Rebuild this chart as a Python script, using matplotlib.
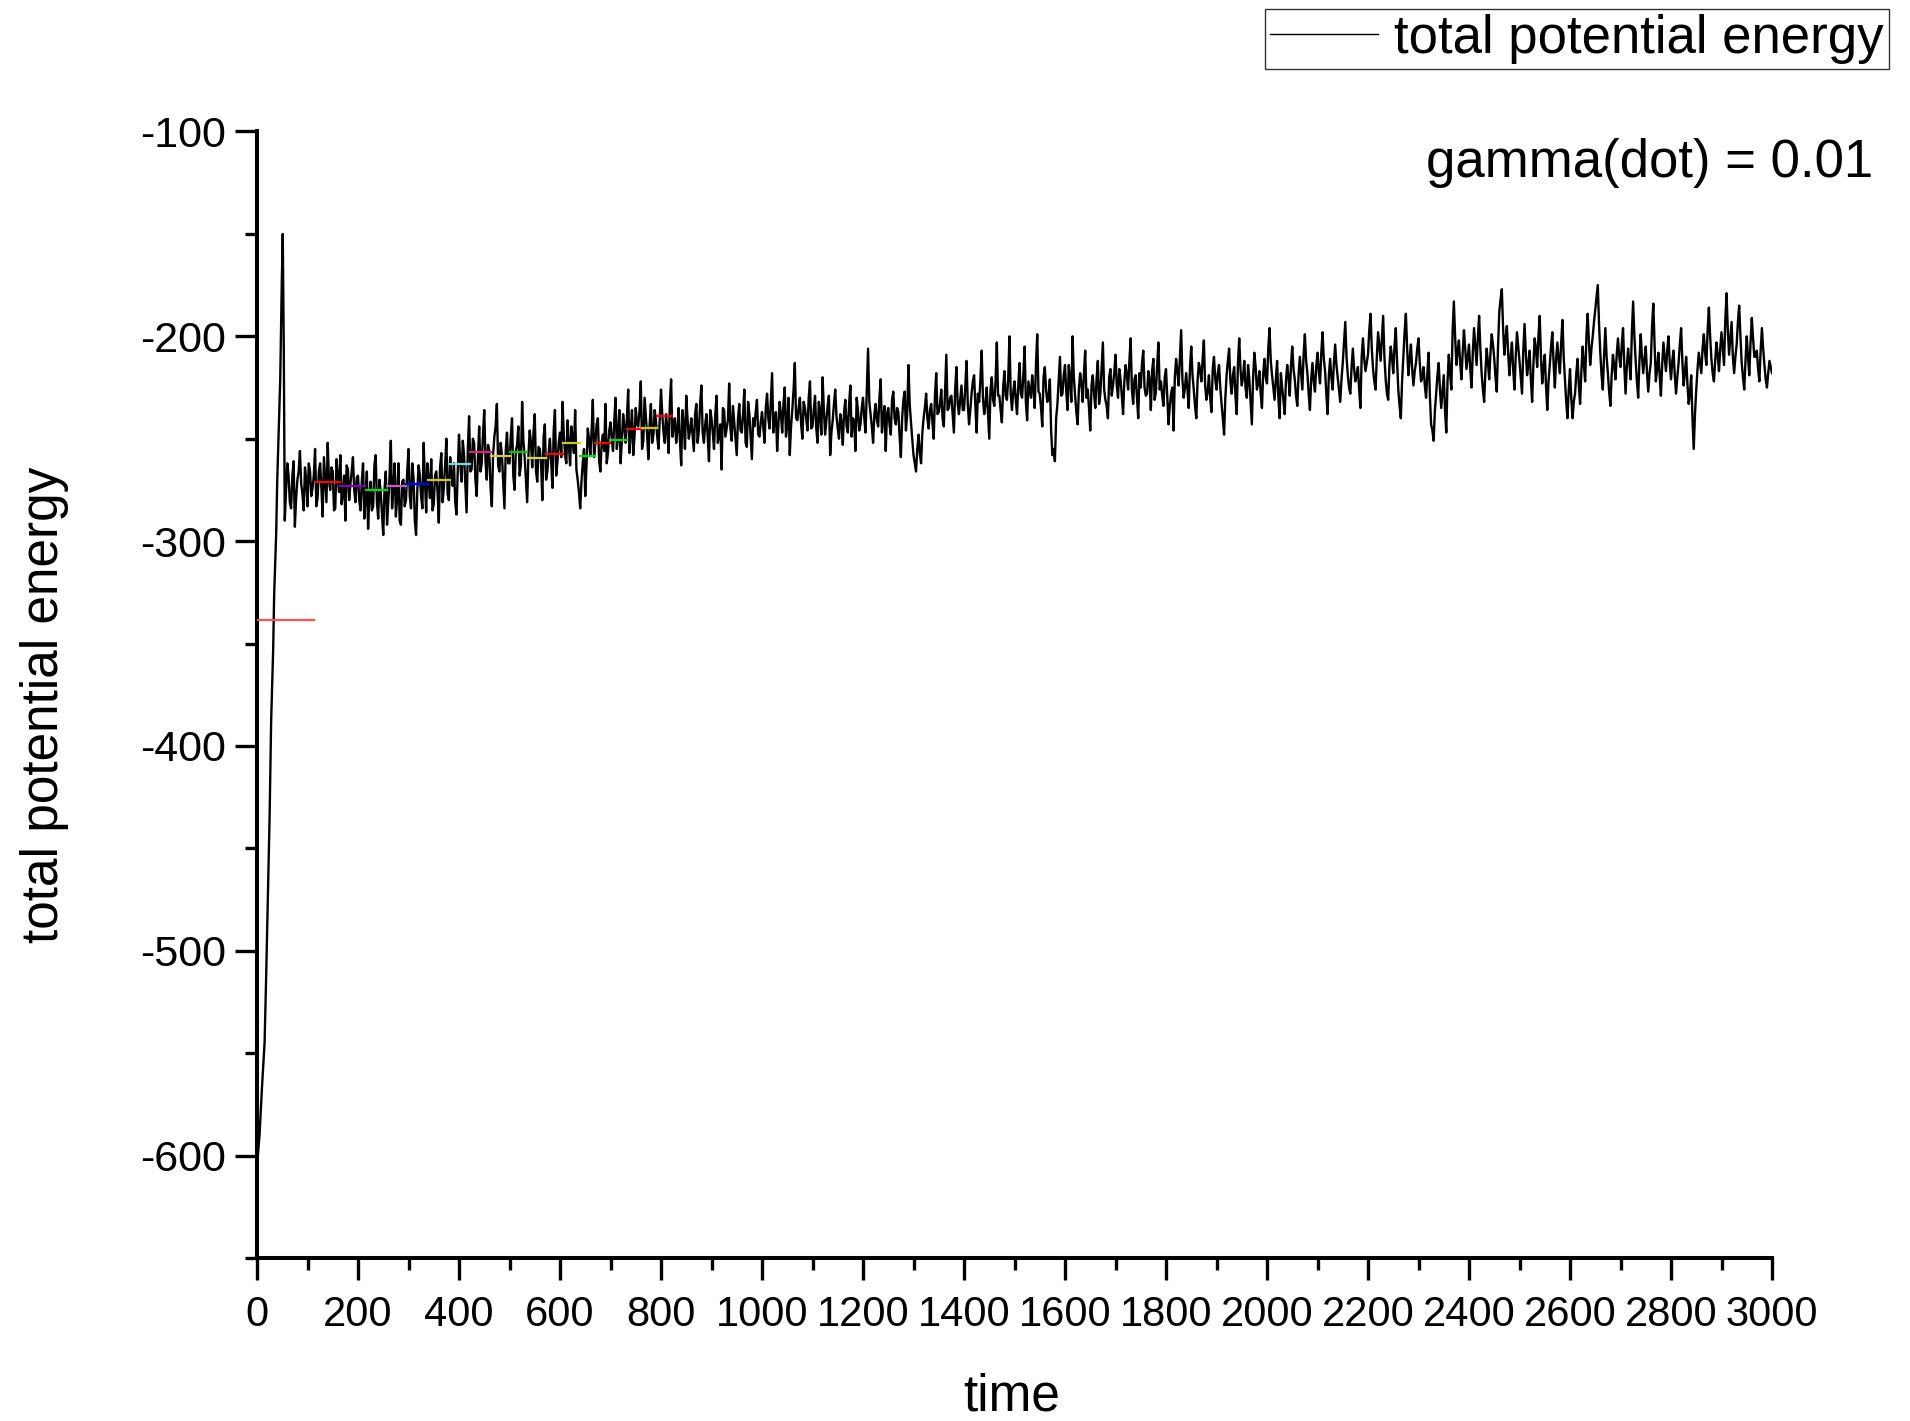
import numpy as np
import matplotlib
matplotlib.use("Agg")
import matplotlib.pyplot as plt
from matplotlib.ticker import MultipleLocator

plt.rcParams['font.family'] = ['Liberation Sans', 'DejaVu Sans']
plt.rcParams['axes.unicode_minus'] = False

# ---- data ----
# initial climb and spike (irregular time steps)
time_start = [0, 5, 10, 15, 18, 22, 25, 28, 32, 34, 38, 40, 43, 46, 49, 51, 53]
energy_start = [-605, -590, -566, -545, -514, -469, -434, -388, -353, -326,
                -296, -271, -246, -221, -175, -150, -205]

# samples at t = 55, 60, 65, ... 3000 (spiky envelope)
energy_0055_0095 = [-290, -262, -281, -268, -293, -270, -256, -277, -264]
energy_0100_0195 = [-283, -266, -274, -255, -279, -262, -288, -270, -252, -275,
                    -266, -284, -269, -258, -277, -290, -265, -272, -259, -281]
energy_0200_0295 = [-268, -285, -262, -279, -294, -271, -283, -258, -289, -276,
                    -297, -266, -281, -251, -274, -288, -262, -292, -270, -280]
energy_0300_0395 = [-255, -284, -269, -297, -263, -278, -252, -286, -271, -260,
                    -282, -266, -291, -257, -274, -250, -280, -268, -262, -287]
energy_0400_0495 = [-248, -271, -258, -286, -239, -265, -252, -278, -244, -262,
                    -236, -270, -256, -283, -249, -233, -266, -258, -284, -247]
energy_0500_0595 = [-262, -240, -275, -253, -268, -232, -259, -281, -246, -264,
                    -238, -271, -255, -280, -243, -266, -250, -274, -236, -261]
energy_0600_0695 = [-247, -232, -258, -241, -263, -250, -236, -270, -284, -262,
                    -278, -245, -258, -231, -252, -240, -266, -248, -233, -257]
energy_0700_0795 = [-242, -256, -230, -249, -262, -238, -252, -226, -247, -258,
                    -235, -244, -222, -251, -239, -260, -233, -248, -241, -255]
energy_0800_0895 = [-226, -247, -238, -257, -221, -244, -252, -235, -263, -243,
                    -229, -250, -240, -256, -233, -246, -224, -252, -238, -261]
energy_0900_0995 = [-240, -255, -229, -248, -265, -236, -245, -223, -251, -242,
                    -258, -233, -247, -226, -254, -238, -260, -244, -231, -249]
energy_1000_1095 = [-237, -252, -228, -245, -218, -240, -256, -232, -247, -225,
                    -243, -258, -236, -213, -241, -230, -250, -235, -246, -222]
energy_1100_1195 = [-244, -229, -252, -237, -220, -248, -234, -258, -241, -226,
                    -245, -238, -253, -231, -247, -224, -240, -256, -236, -243]
energy_1200_1295 = [-230, -247, -206, -238, -252, -233, -244, -221, -240, -256,
                    -235, -248, -227, -243, -237, -259, -231, -246, -214, -242]
energy_1300_1395 = [-258, -266, -248, -262, -240, -228, -245, -233, -250, -218,
                    -237, -226, -244, -209, -235, -229, -247, -215, -238, -224]
energy_1400_1495 = [-236, -212, -243, -228, -219, -247, -232, -207, -238, -225,
                    -250, -220, -234, -203, -229, -242, -217, -231, -200, -236]
energy_1500_1595 = [-222, -238, -213, -230, -205, -241, -226, -219, -235, -199,
                    -228, -244, -215, -232, -221, -258, -261, -233, -210, -228]
energy_1600_1695 = [-214, -236, -221, -200, -229, -243, -218, -232, -207, -226,
                    -246, -219, -235, -212, -228, -203, -231, -240, -216, -224]
energy_1700_1795 = [-209, -230, -221, -238, -214, -226, -201, -233, -219, -240,
                    -225, -207, -229, -217, -236, -211, -227, -203, -222, -234]
energy_1800_1895 = [-216, -243, -228, -246, -211, -224, -197, -230, -218, -235,
                    -205, -226, -240, -213, -222, -202, -231, -219, -237, -210]
energy_1900_1995 = [-226, -214, -233, -248, -219, -206, -228, -215, -238, -201,
                    -224, -212, -230, -221, -243, -208, -226, -217, -235, -211]
energy_2000_2095 = [-223, -196, -219, -231, -212, -240, -225, -238, -214, -229,
                    -205, -221, -234, -210, -226, -199, -218, -236, -213, -227]
energy_2100_2195 = [-208, -223, -198, -217, -238, -211, -226, -204, -220, -232,
                    -213, -193, -219, -228, -206, -222, -215, -235, -201, -217]
energy_2200_2295 = [-209, -189, -216, -226, -198, -212, -190, -221, -231, -205,
                    -218, -196, -226, -240, -210, -189, -219, -204, -224, -213]
energy_2300_2395 = [-201, -222, -215, -230, -208, -243, -251, -228, -213, -235,
                    -219, -247, -209, -226, -183, -214, -202, -221, -197, -216]
energy_2400_2495 = [-204, -225, -196, -214, -190, -218, -232, -206, -221, -199,
                    -211, -227, -188, -177, -209, -195, -219, -203, -226, -198]
energy_2500_2595 = [-212, -228, -194, -219, -207, -232, -201, -215, -190, -223,
                    -209, -236, -214, -198, -225, -203, -218, -192, -221, -240]
energy_2600_2695 = [-216, -240, -228, -211, -233, -205, -222, -189, -214, -200,
                    -187, -175, -208, -226, -196, -218, -234, -209, -221, -201]
energy_2700_2795 = [-215, -196, -228, -206, -221, -183, -212, -230, -199, -218,
                    -205, -227, -213, -184, -222, -208, -229, -203, -217, -200]
energy_2800_2895 = [-221, -207, -228, -213, -196, -224, -210, -233, -219, -255,
                    -226, -208, -218, -199, -214, -186, -211, -222, -203, -217]
energy_2900_3000 = [-198, -214, -179, -209, -193, -218, -204, -185, -213, -226,
                    -200, -219, -191, -210, -207, -222, -196, -214, -225, -212,
                    -218]

# samples at t = 57.5, 62.5, ... 2997.5 (dense core of the band)
mid_0055_0095 = [-275, -268, -284, -261, -279, -266, -272, -285, -270]
mid_0100_0195 = [-262, -278, -268, -283, -266, -274, -259, -281, -271, -264,
                 -285, -260, -276, -282, -268, -263, -280, -266, -275, -269]
mid_0200_0295 = [-280, -271, -289, -266, -278, -285, -263, -281, -270, -287,
                 -275, -292, -268, -284, -262, -279, -290, -271, -283, -266]
mid_0300_0395 = [-278, -262, -290, -275, -268, -284, -270, -262, -279, -285,
                 -268, -276, -264, -281, -263, -277, -259, -273, -281, -266]
mid_0400_0495 = [-262, -251, -272, -255, -266, -250, -270, -259, -266, -248,
                 -261, -253, -274, -258, -244, -263, -252, -271, -256, -262]
mid_0500_0595 = [-249, -268, -256, -244, -263, -251, -270, -258, -252, -247,
                 -266, -254, -262, -249, -270, -257, -261, -246, -268, -252]
mid_0600_0695 = [-259, -248, -262, -253, -244, -257, -265, -276, -271, -255,
                 -263, -250, -247, -259, -243, -261, -252, -256, -262, -246]
mid_0700_0795 = [-250, -241, -255, -236, -251, -244, -240, -257, -236, -249,
                 -243, -236, -255, -230, -248, -243, -252, -236, -249, -240]
mid_0800_0895 = [-238, -252, -245, -233, -249, -240, -246, -251, -236, -255,
                 -240, -246, -248, -238, -252, -233, -247, -243, -249, -236]
mid_0900_0995 = [-247, -238, -252, -243, -235, -249, -241, -245, -234, -250,
                 -240, -246, -238, -252, -232, -249, -240, -237, -248, -242]
mid_1000_1095 = [-244, -235, -240, -231, -247, -237, -243, -238, -233, -249,
                 -230, -244, -226, -240, -235, -243, -232, -240, -230, -245]
mid_1100_1195 = [-236, -245, -232, -248, -236, -241, -229, -247, -233, -239,
                 -250, -242, -237, -244, -233, -249, -241, -230, -246, -235]
mid_1200_1295 = [-240, -226, -232, -244, -238, -241, -230, -247, -234, -238,
                 -243, -231, -240, -235, -249, -240, -227, -238, -233, -250]
mid_1300_1395 = [-262, -255, -257, -247, -235, -240, -236, -242, -229, -238,
                 -233, -240, -227, -236, -230, -238, -226, -233, -231, -236]
mid_1400_1495 = [-225, -233, -236, -222, -234, -228, -221, -230, -233, -237,
                 -226, -231, -222, -229, -236, -225, -229, -221, -228, -227]
mid_1500_1595 = [-231, -224, -228, -219, -232, -222, -230, -226, -214, -227,
                 -235, -220, -226, -230, -246, -255, -240, -221, -229, -219]
mid_1600_1695 = [-227, -214, -232, -220, -237, -226, -223, -218, -230, -235,
                 -224, -228, -221, -233, -215, -226, -234, -220, -229, -218]
mid_1700_1795 = [-224, -216, -229, -222, -219, -212, -226, -221, -230, -218,
                 -213, -225, -228, -221, -217, -231, -214, -226, -229, -220]
mid_1800_1895 = [-230, -234, -225, -220, -217, -210, -221, -225, -226, -215,
                 -219, -234, -222, -216, -211, -224, -227, -230, -216, -221]
mid_1900_1995 = [-218, -225, -240, -230, -212, -222, -219, -229, -213, -216,
                 -220, -225, -214, -232, -220, -215, -223, -228, -218, -220]
mid_2000_2095 = [-206, -212, -225, -221, -230, -218, -231, -222, -220, -214,
                 -216, -229, -219, -218, -209, -212, -228, -221, -222, -215]
mid_2100_2195 = [-217, -208, -211, -228, -219, -220, -213, -214, -226, -221,
                 -203, -210, -225, -215, -216, -219, -226, -210, -211, -213]
mid_2200_2295 = [-197, -206, -222, -210, -205, -201, -210, -228, -214, -210,
                 -205, -212, -234, -222, -198, -206, -211, -216, -217, -206]
mid_2300_2395 = [-213, -220, -224, -218, -229, -246, -236, -219, -226, -227,
                 -236, -222, -218, -198, -200, -207, -213, -208, -206, -210]
mid_2400_2495 = [-216, -208, -205, -201, -206, -226, -217, -213, -208, -204,
                 -220, -205, -182, -196, -201, -208, -210, -216, -210, -205]
mid_2500_2595 = [-220, -207, -208, -214, -221, -214, -206, -200, -210, -215,
                 -224, -222, -205, -213, -211, -212, -203, -210, -232, -226]
mid_2600_2695 = [-230, -232, -218, -224, -217, -214, -200, -203, -206, -193,
                 -181, -194, -219, -209, -210, -227, -219, -214, -209, -210]
mid_2700_2795 = [-204, -214, -215, -213, -198, -200, -222, -212, -210, -211,
                 -218, -218, -195, -204, -216, -219, -214, -210, -207, -213]
mid_2800_2895 = [-212, -219, -220, -204, -212, -218, -223, -228, -240, -238,
                 -216, -213, -206, -208, -197, -200, -218, -212, -209, -206]
mid_2900_2995 = [-206, -192, -197, -201, -210, -210, -193, -200, -220, -212,
                 -210, -203, -201, -210, -216, -207, -206, -221, -218, -215]

# short running-average segments drawn in colour
seg_start = [0, 115, 164, 216, 257, 295, 339, 382, 422, 463, 501, 535, 572,
             606, 640, 669, 699, 733, 762, 792]
seg_end = [113, 164, 214, 257, 295, 339, 382, 422, 463, 501, 535, 572, 606,
           640, 669, 699, 733, 762, 792, 822]
seg_level = [-338.4, -270.9, -273.0, -275.0, -273.0, -272.0, -270.0, -262.1,
             -256.3, -258.4, -256.3, -259.2, -257.7, -251.9, -258.4, -251.9,
             -250.4, -245.3, -244.7, -238.9]
seg_color = ['#FF5050', '#FF0000', '#7F00BF', '#00E000', '#C060C0', '#0000FF',
             '#CCCC00', '#70E0E0', '#E0207F', '#CCCC40', '#00C800', '#D8D840',
             '#FF0000', '#CCCC00', '#00E000', '#FF0000', '#00E000', '#FF0000',
             '#CCCC00', '#FF0000']

xticks = [0, 200, 400, 600, 800, 1000, 1200, 1400, 1600, 1800, 2000, 2200,
          2400, 2600, 2800, 3000]
yticks = [-600, -500, -400, -300, -200, -100]

# ---- assemble ----
main_vals = (energy_0055_0095 + energy_0100_0195 + energy_0200_0295 +
             energy_0300_0395 + energy_0400_0495 + energy_0500_0595 +
             energy_0600_0695 + energy_0700_0795 + energy_0800_0895 +
             energy_0900_0995 + energy_1000_1095 + energy_1100_1195 +
             energy_1200_1295 + energy_1300_1395 + energy_1400_1495 +
             energy_1500_1595 + energy_1600_1695 + energy_1700_1795 +
             energy_1800_1895 + energy_1900_1995 + energy_2000_2095 +
             energy_2100_2195 + energy_2200_2295 + energy_2300_2395 +
             energy_2400_2495 + energy_2500_2595 + energy_2600_2695 +
             energy_2700_2795 + energy_2800_2895 + energy_2900_3000)
mid_vals = (mid_0055_0095 + mid_0100_0195 + mid_0200_0295 + mid_0300_0395 +
            mid_0400_0495 + mid_0500_0595 + mid_0600_0695 + mid_0700_0795 +
            mid_0800_0895 + mid_0900_0995 + mid_1000_1095 + mid_1100_1195 +
            mid_1200_1295 + mid_1300_1395 + mid_1400_1495 + mid_1500_1595 +
            mid_1600_1695 + mid_1700_1795 + mid_1800_1895 + mid_1900_1995 +
            mid_2000_2095 + mid_2100_2195 + mid_2200_2295 + mid_2300_2395 +
            mid_2400_2495 + mid_2500_2595 + mid_2600_2695 + mid_2700_2795 +
            mid_2800_2895 + mid_2900_2995)
main_time = 55 + 5 * np.arange(len(main_vals))
mid_time = 57.5 + 5 * np.arange(len(mid_vals))

time = np.concatenate([time_start, main_time, mid_time]).astype(float)
energy = np.concatenate([energy_start, main_vals, mid_vals]).astype(float)
order = np.argsort(time, kind='stable')
time, energy = time[order], energy[order]

# ---- figure ----
W, H = 1910, 1421
fig = plt.figure(figsize=(W / 100, H / 100), dpi=100)
ax = fig.add_axes([257 / W, 1 - 1258 / H, (1772 - 257) / W, (1258 - 131.5) / H])

ax.plot(time, energy, color='black', lw=1.7, label='total potential energy',
        zorder=3)
for x0, x1, lv, c in zip(seg_start, seg_end, seg_level, seg_color):
    ax.plot([x0, x1], [lv, lv], color=c, lw=1.6, zorder=4)

ax.set_xlim(0, 3000)
ax.set_ylim(-650, -100)
ax.set_xticks(xticks)
ax.set_yticks(yticks)
ax.xaxis.set_minor_locator(MultipleLocator(100))
ax.yaxis.set_minor_locator(MultipleLocator(50))

for s in ['top', 'right']:
    ax.spines[s].set_visible(False)
for s in ['left', 'bottom']:
    ax.spines[s].set_linewidth(2.9)

ax.tick_params(which='major', direction='out', length=16, width=2.4,
               labelsize=30, pad=6)
ax.tick_params(which='minor', direction='out', length=8.5, width=2.4)
ax.tick_params(axis='x', which='major', pad=11)
ax.tick_params(axis='y', which='major', labelsize=31)

ax.set_xlabel('time', fontsize=37)
ax.xaxis.label.set_va('center')
ax.xaxis.set_label_coords(0.498, -0.1234)
ax.set_ylabel('total potential energy', fontsize=37)
ax.yaxis.label.set_va('center')
ax.yaxis.set_label_coords(-0.140, 0.491)

ax.text(1.0667, 0.972, 'gamma(dot) = 0.01', transform=ax.transAxes,
        ha='right', va='center', fontsize=38)

leg = fig.legend(loc='upper right', bbox_to_anchor=(1889 / W, 1 - 8.5 / H),
                 fontsize=38, frameon=True, fancybox=False, borderpad=0.1,
                 handlelength=2.05, handletextpad=0.3, borderaxespad=0)
leg.get_frame().set_edgecolor('black')
leg.get_frame().set_linewidth(1.0)
for l in leg.get_lines():
    l.set_linewidth(1.0)

fig.savefig('out.png', dpi=100)
